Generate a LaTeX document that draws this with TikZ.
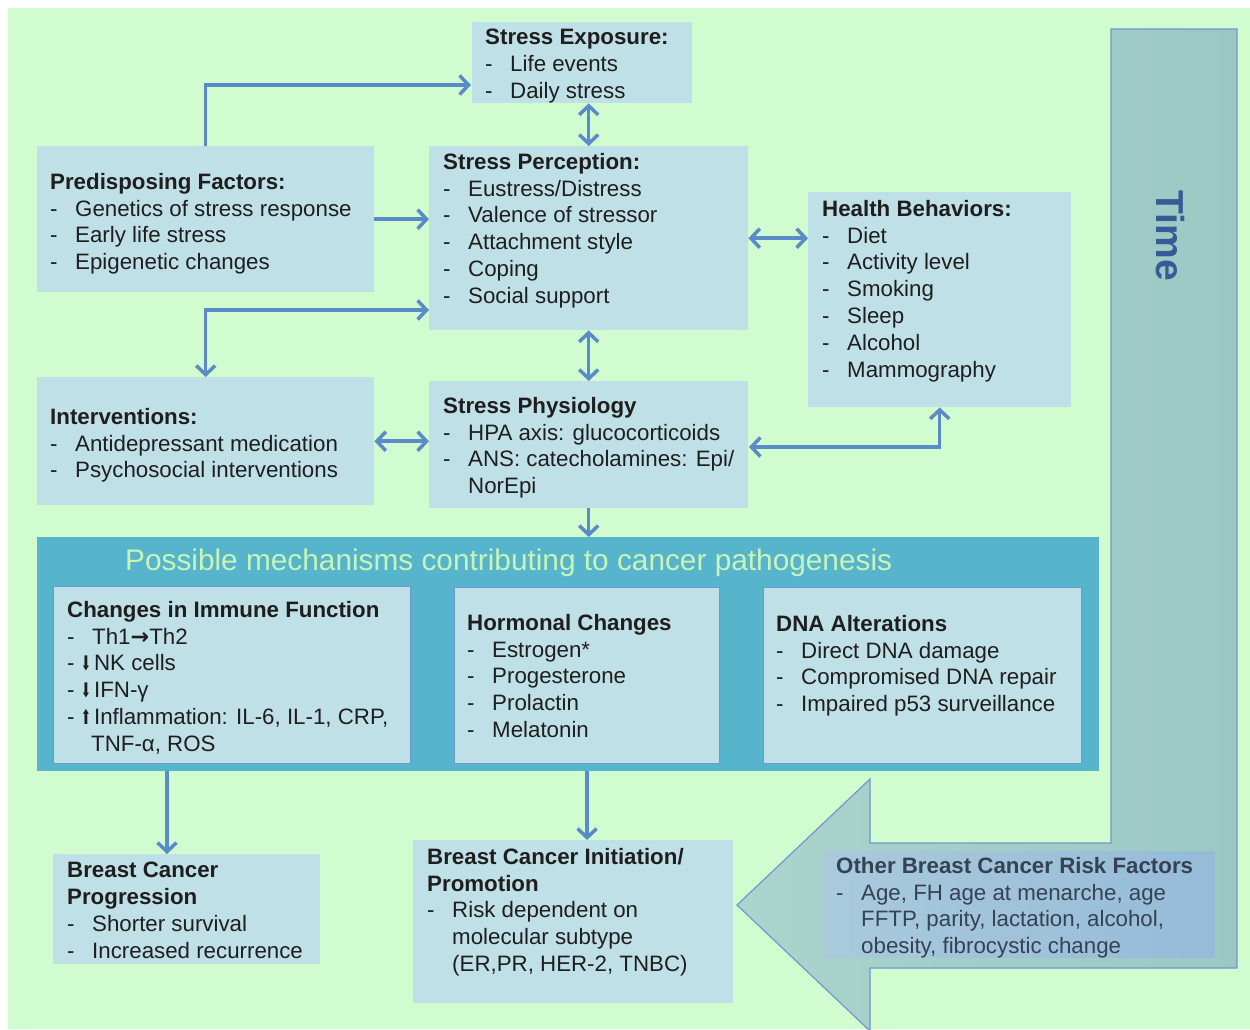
\documentclass[tikz,border=0pt]{standalone}
\usepackage{fontspec}
\usepackage{graphicx}
\setmainfont{Liberation Sans}
\newfontfamily\symfont{DejaVu Sans}
\usetikzlibrary{arrows.meta}

\definecolor{bgGreen}{RGB}{208,252,208}
\definecolor{boxBlue}{RGB}{192,224,232}
\definecolor{mechBlue}{RGB}{86,180,204}
\definecolor{innerEdge}{RGB}{112,152,208}
\definecolor{arrowBlue}{RGB}{91,138,200}
\definecolor{mechText}{RGB}{200,244,184}
\definecolor{timeL}{RGB}{170,212,204}
\definecolor{timeR}{RGB}{156,200,196}
\definecolor{timeText}{RGB}{56,90,150}
\definecolor{otherL}{RGB}{168,200,220}
\definecolor{otherR}{RGB}{146,184,216}
\definecolor{otherText}{RGB}{52,66,84}
\definecolor{bodyText}{RGB}{30,30,30}

% list line with a leading dash, and a continuation line
\newcommand\li[1]{\makebox[25pt][l]{-}#1}
\newcommand\lc[1]{\hspace*{25pt}#1}
\newcommand\dnarr{\scalebox{0.55}[0.9]{\symfont ⬇}\hspace{3pt}}
\newcommand\uparr{\scalebox{0.55}[0.9]{\symfont ⬆}\hspace{3pt}}
\newcommand\rtarr{{\symfont\bfseries →}}

\begin{document}
\begin{tikzpicture}[x=1pt,y=-1pt,
  box/.style={fill=boxBlue, draw=none, inner sep=0, anchor=north west},
  innerbox/.style={fill=boxBlue, draw=innerEdge, line width=1.2pt, inner sep=0, anchor=north west},
  txt/.style={anchor=north west, inner sep=0, align=left, text=bodyText,
    font=\fontsize{22.3}{26.8}\selectfont},
  tip/.tip={Straight Barb[length=9pt,width=19pt]},
  arr/.style={draw=arrowBlue, line width=3.5pt, -tip},
  darr/.style={draw=arrowBlue, line width=3.5pt, tip-tip}
]
\useasboundingbox (0,0) rectangle (1250,1029);
\fill[white] (0,0) rectangle (1250,1029);
\fill[bgGreen] (8,8) rectangle (1250,1029);

% the bent "Time" arrow
\draw[draw=innerEdge, line width=1.2pt, left color=timeL, right color=timeR]
  (1111,29) -- (1237,29) -- (1237,968) -- (870,968) -- (870,1031) -- (737,905)
  -- (870,779) -- (870,843) -- (1111,843) -- cycle;
\node[rotate=-90, inner sep=0, text=timeText, font=\fontsize{39}{39}\bfseries] (timeT) at (1170,236) {Time};

% upper boxes
\node[box, minimum width=220, minimum height=81] (exp) at (472,22) {};
\node[txt] (expT) at (485,29) {\textbf{Stress Exposure:}\\\li{Life events}\\\li{Daily stress}};

\node[box, minimum width=319, minimum height=184] (perc) at (429,146) {};
\node[txt] (percT) at (443,153) {\textbf{Stress Perception:}\\\li{Eustress/Distress}\\\li{Valence of stressor}\\\li{Attachment style}\\\li{Coping}\\\li{Social support}};

\node[box, minimum width=337, minimum height=146] (pre) at (37,146) {};
\node[txt] (preT) at (50,173) {\textbf{Predisposing Factors:}\\\li{Genetics of stress response}\\\li{Early life stress}\\\li{Epigenetic changes}};

\node[box, minimum width=263, minimum height=215] (hb) at (808,192) {};
\node[txt] (hbT) at (822,200) {\textbf{Health Behaviors:}\\\li{Diet}\\\li{Activity level}\\\li{Smoking}\\\li{Sleep}\\\li{Alcohol}\\\li{Mammography}};

\node[box, minimum width=337, minimum height=128] (intv) at (37,377) {};
\node[txt] (intvT) at (50,408) {\textbf{Interventions:}\\\li{Antidepressant medication}\\\li{Psychosocial interventions}};

\node[box, minimum width=319, minimum height=127] (phys) at (429,381) {};
\node[txt] (physT) at (443,397) {\textbf{Stress Physiology}\\\li{HPA axis: glucocorticoids}\\\li{ANS: catecholamines: Epi/}\\\lc{NorEpi}};

% mechanisms panel
\node[box, fill=mechBlue, minimum width=1062, minimum height=234] (mech) at (37,537) {};
\node[anchor=west, inner sep=0, text=mechText, font=\fontsize{29.8}{30}\selectfont] (mechT) at (125,563) {Possible mechanisms contributing to cancer pathogenesis};

\node[innerbox, minimum width=357, minimum height=177] (imm) at (53,586) {};
\node[txt] (immT) at (67,601) {\textbf{Changes in Immune Function}\\\li{Th1\rtarr Th2}\\- \dnarr NK cells\\- \dnarr IFN-γ\\- \uparr Inflammation: IL-6, IL-1, CRP,\\\hspace*{24pt}TNF-α, ROS};

\node[innerbox, minimum width=265, minimum height=176] (horm) at (454,587) {};
\node[txt] (hormT) at (467,614) {\textbf{Hormonal Changes}\\\li{Estrogen*}\\\li{Progesterone}\\\li{Prolactin}\\\li{Melatonin}};

\node[innerbox, minimum width=318, minimum height=176] (dna) at (763,587) {};
\node[txt] (dnaT) at (776,615) {\textbf{DNA Alterations}\\\li{Direct DNA damage}\\\li{Compromised DNA repair}\\\li{Impaired p53 surveillance}};

% outcome boxes
\node[box, minimum width=267, minimum height=110] (prog) at (53,854) {};
\node[txt] (progT) at (67,862) {\textbf{Breast Cancer}\\\textbf{Progression}\\\li{Shorter survival}\\\li{Increased recurrence}};

\node[box, minimum width=320, minimum height=163] (init) at (413,840) {};
\node[txt] (initT) at (427,848) {\textbf{Breast Cancer Initiation/}\\\textbf{Promotion}\\\li{Risk dependent on}\\\lc{molecular subtype}\\\lc{(ER,PR, HER-2, TNBC)}};

\node[box, left color=otherL, right color=otherR, fill opacity=0.9, minimum width=392, minimum height=106] (other) at (823,851) {};
\node[txt, text=otherText] (otherT) at (836,857) {\textbf{Other Breast Cancer Risk Factors}\\\li{Age, FH age at menarche, age}\\\lc{FFTP, parity, lactation, alcohol,}\\\lc{obesity, fibrocystic change}};

% connector end points on box edges
\coordinate (expIn) at (471,85);
\coordinate (percOut) at (429,310);
\coordinate (physOut) at (749,447);
\coordinate (progIn) at (167,854);

% connectors
\draw[arr] (pre.north) |- (expIn);
\draw[arr] (pre.east) -- (pre.east -| perc.west);
\draw[darr] (percOut) -| (intv.north);
\draw[darr] (exp.south -| perc.north) -- (perc.north);
\draw[darr] (perc.east) -- (perc.east -| hb.west);
\draw[darr] (perc.south) -- (phys.north);
\draw[darr] (intv.east) -- (intv.east -| phys.west);
\draw[darr] (physOut) -| (hb.south);
\draw[arr] (phys.south) -- (phys.south |- mech.north);
\draw[arr] (mech.south -| progIn) -- (progIn);
\draw[arr] (mech.south -| horm.south) -- (horm.south |- init.north);
\end{tikzpicture}
\end{document}
